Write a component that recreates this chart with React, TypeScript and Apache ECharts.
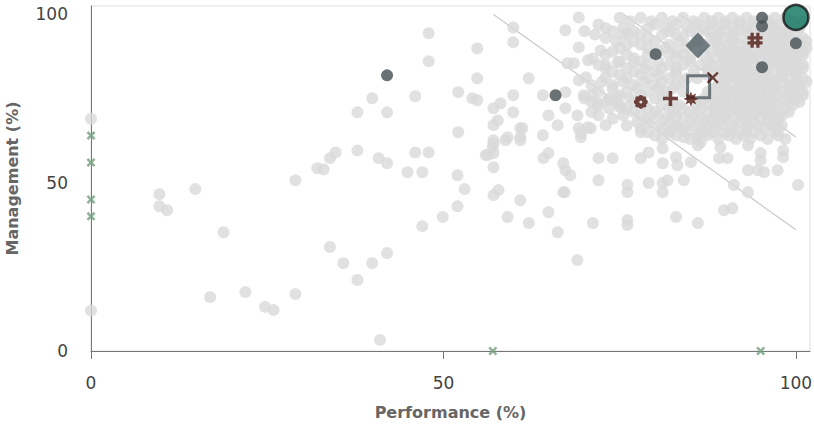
import React, { useEffect, useRef } from "react";
import * as echarts from "echarts";

// ---- tick labels ----
const xTicks = [0, 50, 100];
const yTicks = [0, 50, 100];

// ---- light grey population ----
const grayPoints: number[][] = [
  [0, 69], [0, 12],
  [9.7, 46.6], [9.7, 43], [10.8, 41.8], [14.8, 48.1], [18.8, 35.3], [16.9, 16], [21.9, 17.5],
  [24.7, 13.1], [25.9, 12.2], [29, 16.9], [29, 50.7],
  [32.1, 54.3], [33, 54], [33.9, 57.3], [34.7, 59], [37.8, 59.6], [40.8, 57.3], [42, 55.8],
  [33.9, 30.9], [35.8, 26.1], [37.8, 21.1], [39.9, 26.1], [42, 29.1], [41, 3.3],
  [47.9, 94.4], [47.9, 86.1], [39.9, 75.1], [37.8, 70.9], [42, 70.9], [46, 75.7], [52.1, 76.9],
  [54.1, 75.1], [54.8, 74.5], [54.8, 89.9], [54.8, 81], [52.1, 65], [46, 59], [47.9, 59],
  [44.9, 53.1], [47, 53.1], [52, 52.2], [53, 48.1], [52, 43], [49.9, 39.8], [47, 37.1],
  [57.1, 46.3], [57.8, 47.8], [60.9, 44.8], [59.1, 39.8], [62.1, 38], [64.9, 41.2], [66.2, 35.3],
  [67.2, 47.2], [67.3, 53.7], [68, 52.2], [64.2, 57.3], [64.9, 58.8], [69, 27], [56.3, 58.2],
  [57.1, 58.8], [57.1, 54.6], [57.1, 61.7], [58.8, 62.6], [60.9, 62.6], [56, 58.2], [57, 60.5],
  [69.2, 99.1], [59.9, 96.1], [59.9, 91.7], [67.3, 95.3], [69.2, 90.2], [76.1, 94.4], [72.3, 89.3],
  [67.6, 85.5], [68.5, 85.5], [70.5, 86.4], [71.2, 86.9], [73, 84.9], [74.7, 85.8], [77, 85.8],
  [69.2, 80.4], [70.2, 81.3], [73, 81.3], [62.1, 81], [59.9, 76], [64.1, 76], [67.3, 76.9],
  [69.9, 76], [57.1, 72.1], [58.1, 73.6], [59.9, 70.9], [64.9, 70], [67.3, 72.1], [69, 70],
  [71.9, 73.6], [73.3, 74.5], [74.7, 75.4], [75.1, 72.4], [57.1, 67.1], [57.7, 68.5], [61.2, 66.2],
  [64.1, 64.1], [66.2, 67.1], [69.2, 66.2], [70.5, 66.5], [73, 67.1], [59.1, 63.5], [60.9, 63.5],
  [69.5, 63.5], [60.9, 66.2], [57.1, 62.6],
  [69.5, 64.7], [70.9, 66.2], [67, 55.8], [67, 47.2], [72, 57.3], [74, 57.3], [72, 50.7],
  [76.1, 49.3], [76.1, 47.2], [78, 65], [79.1, 68], [78, 57.3], [79.1, 59], [81.1, 60.2],
  [81.1, 55.8], [83, 57.6], [83.2, 55.2], [85.1, 56.1], [79.1, 49.9], [81.1, 49.9], [81.8, 50.7],
  [81.1, 47.2], [84.1, 50.7], [82.2, 65], [83.2, 66.5], [84.1, 63.5], [86.1, 63.5], [86.5, 62],
  [87.5, 64.1], [88.4, 65], [86.1, 61.1], [89.3, 60.5], [89.1, 57.3], [90.3, 57.3], [91.2, 49.3],
  [93.2, 47.2], [89.8, 41.8], [91, 42.4], [93.2, 61.1], [95, 58.8], [95, 56.7], [93.2, 53.7],
  [94.6, 53.7], [95.5, 53.1], [97.4, 53.7], [98.2, 59.6], [98.2, 57.6], [100.3, 49.3],
  [71.2, 38], [76.1, 38.9], [76.1, 37.4], [83, 39.8], [86.1, 38],
];

// dense top-right cloud, row by row: [management, performance values]
const cloudRows: [number, number[]][] = [
  [99, [75, 78, 81, 84, 87, 89, 91, 93, 97, 98.5]],
  [98, [76.5, 79.5, 82.5, 85.5, 88, 90, 92, 94, 96, 99.5, 101]],
  [97, [72, 80, 83, 86, 88, 90, 92, 94, 96.5, 98]],
  [96, [73, 75.5, 79, 81.5, 84.5, 87, 89, 91, 93, 95, 97, 99, 100.5]],
  [95, [70, 74, 77, 82, 85, 87.5, 89.5, 91.5, 93, 96, 97.5, 99]],
  [94, [71.5, 75.5, 78, 81, 83, 86, 89, 91, 93.5, 94.5, 96.5, 98, 100]],
  [93, [73, 79, 84, 88, 90, 92, 95.5, 97, 99, 101]],
  [92, [74.5, 77, 80, 83.5, 86, 88.5, 91, 93.5, 95, 97, 98.5, 100, 101.5]],
  [91, [76, 78, 82, 89, 90.5, 92, 96, 97.5, 99]],
  [90, [75, 79, 81.5, 84.5, 89, 91, 93, 95, 96.5, 98, 100, 101.5]],
  [89, [74, 80.5, 83, 88, 90, 91.5, 93, 94.5, 96, 97.5, 99, 101]],
  [88, [73, 76, 79, 82, 84, 87, 89.5, 91.5, 93.5, 95.5, 97, 99.5, 101]],
  [87, [77, 83, 85, 88.5, 90.5, 92.5, 94, 96, 97, 98.5, 100]],
  [86, [75, 78, 80.5, 85, 87.5, 90, 91.5, 93, 95, 96.5, 98, 100]],
  [85, [72, 79, 82, 84, 86.5, 88, 89.5, 91, 92.5, 94, 96, 97.5, 99, 101]],
  [84, [73, 76, 78.5, 81, 83, 87.5, 90, 91.5, 93, 95, 96, 98, 99.5, 101]],
  [83, [74, 77, 80, 83, 85.5, 89, 90.5, 92, 93.5, 97, 98.5, 100]],
  [82, [75, 78, 80.5, 83, 87.5, 89, 91, 92.5, 94, 95.5, 98, 100]],
  [81, [76, 79, 82, 84.5, 86, 90, 91.5, 93, 94.5, 96, 97.5, 99, 101]],
  [80, [72.5, 75.5, 78.5, 81, 84, 90, 92, 93.5, 95, 96.5, 98, 100, 101.5]],
  [79, [71, 74, 77, 80, 83, 89, 91, 92.5, 94, 95.5, 97, 99, 100.5]],
  [78, [74, 77.5, 80.5, 82.5, 88.5, 90, 92, 93.5, 95, 97, 99, 100.5]],
  [77, [72, 76, 79, 81.5, 84, 87.5, 89.5, 91, 92.5, 94, 96, 98, 99.5, 101]],
  [76, [71, 75, 78, 81, 88, 90, 91.5, 93, 94.5, 96, 97.5, 99.5, 101]],
  [75, [70, 73.5, 76.5, 80, 87, 89, 90.5, 92, 93.5, 95, 96.5, 98.5, 100]],
  [74, [71, 74.5, 77, 82.5, 86.5, 88.5, 90, 92, 93.5, 95.5, 97, 99, 100.5]],
  [73, [72, 75, 78.5, 81, 83.5, 86, 88, 89.5, 91, 93, 94.5, 96, 97.5, 99.5]],
  [72, [73.5, 76, 79, 82, 84, 86.5, 88.5, 90, 91.5, 93, 95, 96.5, 98.5]],
  [71, [71, 77, 80, 82.5, 85, 87.5, 89, 90.5, 92, 94, 95.5, 97, 99]],
  [70, [72, 75.5, 78, 80.5, 83, 85.5, 88.5, 90, 92.5, 94, 96, 98]],
  [69, [74, 79, 81.5, 84, 86.5, 88, 90, 91.5, 93, 95, 97.5]],
  [68, [77.5, 82, 85, 87, 89, 92, 94, 96, 97]],
  [67, [76, 80.5, 83, 85.5, 87.5, 89.5, 91, 93, 94.5, 96.5, 98]],
  [66, [78, 81, 84, 86.5, 88.5, 91, 93, 95.5, 97.5]],
  [65, [79, 82, 84.5, 87, 90, 92, 94, 97]],
  [64, [80, 83, 86, 90.5, 92.5, 95, 97.5]],
  [63, [81, 85, 89, 91.5, 93.5, 96, 98.5]],
];

// ---- highlighted entities ----
const darkPoints: number[][] = [
  [42, 81.9], [65.9, 76], [80.1, 88.2], [95.2, 99], [95.2, 96.5], [95.2, 84.3], [100, 91.4],
];
const leaderPoint = [[100, 99.1]];
const diamondPoint = [[86.1, 90.8]];
const squarePoint = [[86.2, 78.5]];
const hashPoint = [[94.2, 92.3]];
const flowerPoint = [[78, 74]];
const plusPoint = [[82.2, 75]];
const starPoint = [[85.1, 74.9]];
const crossPoint = [[88.2, 81.2]];
const zeroPoints: number[][] = [
  [0, 64], [0, 56], [0, 45], [0, 40], [57, 0], [95, 0],
];

// ---- reference diagonals ----
const refLines: number[][][] = [
  [[57.1, 100], [100, 36]],
  [[75.6, 100], [100, 63.6]],
  [[83.5, 100], [100, 75.4]],
];

// ---- symbol shapes ----
function circ(cx: number, cy: number, r: number, cw: boolean) {
  const s = cw ? 1 : 0;
  return `M${cx - r} ${cy}A${r} ${r} 0 1 ${s} ${cx + r} ${cy}A${r} ${r} 0 1 ${s} ${cx - r} ${cy}Z`;
}
const petalAngles = [0, 45, 90, 135, 180, 225, 270, 315];
const flowerPath =
  "path://" +
  petalAngles
    .map((a) => circ(5 + 3.3 * Math.cos((a * Math.PI) / 180), 5 + 3.3 * Math.sin((a * Math.PI) / 180), 1.7, true))
    .join("") +
  circ(5, 5, 2.6, true) +
  circ(5, 5, 1.1, false);
const starAngles = Array.from({ length: 16 }, (_, i) => i * 22.5);
const starPath =
  "path://" +
  starAngles
    .map((a, i) => {
      const r = i % 2 === 0 ? 5 : 2.7;
      const t = ((a - 90) * Math.PI) / 180;
      return `${i === 0 ? "M" : "L"}${(5 + r * Math.cos(t)).toFixed(2)} ${(5 + r * Math.sin(t)).toFixed(2)}`;
    })
    .join("") +
  "Z";
const thickX = "path://M0 2L2 0L5 3L8 0L10 2L7 5L10 8L8 10L5 7L2 10L0 8L3 5Z";
const thinX = "path://M0 1.4L1.4 0L5 3.6L8.6 0L10 1.4L6.4 5L10 8.6L8.6 10L5 6.4L1.4 10L0 8.6L3.6 5Z";
const plusShape = "path://M3.8 0H6.2V3.8H10V6.2H6.2V10H3.8V6.2H0V3.8H3.8Z";
const hashShape = "path://M2 0H4.2V10H2Z M5.8 0H8V10H5.8Z M0 2.3H10V4.4H0Z M0 5.6H10V7.7H0Z";

const MAROON = "#4e1610";
const FONT = "DejaVu Sans";

export default function App() {
  const ref = useRef<HTMLDivElement>(null);

  useEffect(() => {
    if (!ref.current) return;
    const chart = echarts.init(ref.current, undefined, { renderer: "svg" });

    const cloudPoints: number[][] = [];
    cloudRows.forEach(([y, xs]) => xs.forEach((x) => cloudPoints.push([x, y])));

    const lineSeries = refLines.map((seg) => ({
      type: "line",
      data: seg,
      symbol: "none",
      silent: true,
      z: 1,
      lineStyle: { color: "#c9c9c9", width: 1.2 },
    }));

    const marker = (data: number[][], symbol: string, size: number | number[], extra: any = {}) => ({
      type: "scatter",
      data,
      symbol,
      symbolSize: size,
      clip: false,
      z: 5,
      itemStyle: { color: MAROON },
      ...extra,
    });

    chart.setOption({
      animation: false,
      textStyle: { fontFamily: FONT },
      grid: {
        left: 91,
        right: 4,
        top: 6,
        bottom: 77,
        show: true,
        borderColor: "#e0e0e0",
        borderWidth: 1,
        containLabel: false,
        outerBoundsMode: "none",
      },
      xAxis: {
        type: "value",
        min: 0,
        max: 102,
        interval: 50,
        name: "Performance (%)",
        nameLocation: "middle",
        nameGap: 53,
        nameTextStyle: { fontFamily: FONT, fontSize: 16, fontWeight: "bold", color: "#666" },
        axisLine: { show: true, lineStyle: { color: "#777", width: 1 } },
        axisTick: { show: true, length: 8, customValues: xTicks, lineStyle: { color: "#777" } },
        axisLabel: { customValues: xTicks, margin: 23, fontSize: 17, color: "#444", fontFamily: FONT },
        splitLine: { show: false },
      },
      yAxis: {
        type: "value",
        min: 0,
        max: 102.5,
        interval: 50,
        name: "Management (%)",
        nameLocation: "middle",
        nameGap: 71,
        nameTextStyle: { fontFamily: FONT, fontSize: 16, fontWeight: "bold", color: "#666" },
        axisLine: { show: true, lineStyle: { color: "#777", width: 1 } },
        axisTick: { show: false },
        axisLabel: { customValues: yTicks, margin: 23, fontSize: 17, color: "#444", fontFamily: FONT },
        splitLine: { show: false },
      },
      series: [
        ...lineSeries,
        {
          type: "scatter",
          data: [...grayPoints, ...cloudPoints],
          symbolSize: 12,
          clip: false,
          z: 2,
          itemStyle: { color: "#dadada" },
        },
        {
          type: "scatter",
          data: darkPoints,
          symbolSize: 12,
          clip: false,
          z: 3,
          itemStyle: { color: "#454f54" },
        },
        {
          type: "scatter",
          data: diamondPoint,
          symbol: "diamond",
          symbolSize: [25, 26],
          clip: false,
          z: 4,
          itemStyle: { color: "#4f5d63" },
        },
        {
          type: "scatter",
          data: squarePoint,
          symbol: "rect",
          symbolSize: 22,
          clip: false,
          z: 4,
          itemStyle: { color: "rgba(0,0,0,0)", borderColor: "#505c61", borderWidth: 3 },
        },
        marker(hashPoint, hashShape, 15),
        marker(flowerPoint, flowerPath, 14),
        marker(plusPoint, plusShape, 15),
        marker(starPoint, starPath, 15),
        marker(crossPoint, thinX, 12),
        {
          type: "scatter",
          data: leaderPoint,
          symbolSize: 25,
          clip: false,
          z: 6,
          itemStyle: { color: "#0b735b", borderColor: "#151515", borderWidth: 2.5 },
        },
        {
          type: "scatter",
          data: zeroPoints,
          symbol: thickX,
          symbolSize: 9,
          clip: false,
          z: 5,
          itemStyle: { color: "#74a07e" },
        },
      ],
    });

    return () => chart.dispose();
  }, []);

  return (
    <div
      ref={ref}
      style={{ position: "fixed", left: 0, top: 0, width: 814, height: 428, background: "#fff" }}
    />
  );
}
